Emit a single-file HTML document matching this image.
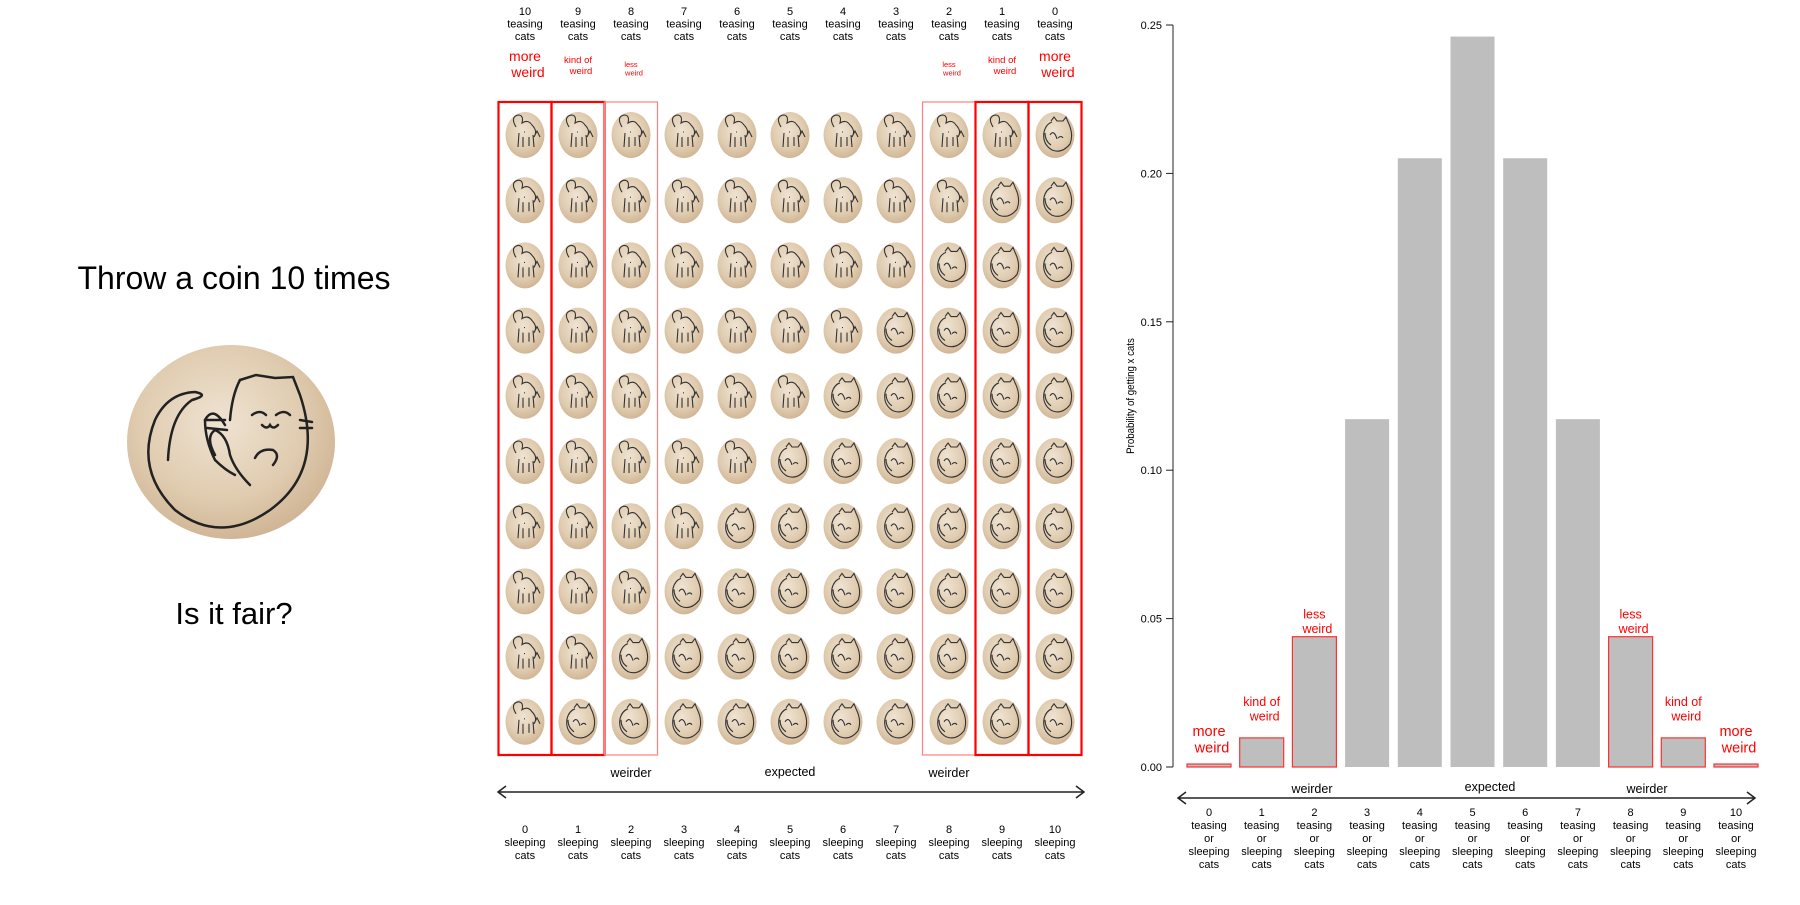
<!DOCTYPE html>
<html><head><meta charset="utf-8"><style>
html,body{margin:0;padding:0;background:#fff;}
svg text{font-family:"Liberation Sans",sans-serif;}
</style></head><body>
<svg id="root" width="1800" height="900" viewBox="0 0 1800 900" xmlns="http://www.w3.org/2000/svg">
<defs>
<radialGradient id="wood" cx="45%" cy="40%" r="65%">
<stop offset="0" stop-color="#efe3d2"/><stop offset="0.6" stop-color="#e0ccb0"/><stop offset="1" stop-color="#cdb190"/>
</radialGradient>
</defs>
<g>
<text x="234" y="289" font-size="32" text-anchor="middle">Throw a coin 10 times</text>
<g>
<ellipse cx="231" cy="442" rx="104" ry="97" fill="url(#wood)"/>
<g fill="none" stroke="#222" stroke-width="2.5" stroke-linecap="round">
<path d="M240 380 L256 375 L275 378 L293 377 L300 395 Q325 470 270 510 Q220 545 175 510 Q135 470 155 420 Q168 393 195 392 Q210 395 192 400 Q170 415 168 460"/>
<path d="M240 380 Q232 395 230 420"/>
<path d="M225 425 q-12 -20 -20 -5 q0 20 10 40 q10 10 20 15"/>
<path d="M215 455 q-10 -18 0 -25 q12 5 15 25 q5 15 20 30"/>
<path d="M255 458 q5 -10 18 -8 q8 5 0 15"/>
<path d="M252 415 q8 -6 14 0 M276 415 q8 -6 14 0 M262 425 q5 5 8 0 q3 5 8 0"/>
<path d="M205 420 l20 0 M207 428 l20 2 M300 420 l12 2 M300 428 l12 0"/>
</g>
</g>
<text x="234" y="624" font-size="31" text-anchor="middle">Is it fair?</text>
</g>
<g id="grid"></g>
<g id="chart"></g>
</svg>
<script>
const NS='http://www.w3.org/2000/svg';
function mk(tag,attrs,parent,txt){const e=document.createElementNS(NS,tag);for(const k in attrs)e.setAttribute(k,attrs[k]);if(txt!==undefined)e.textContent=txt;parent.appendChild(e);return e;}

// ---------- data ----------
const categories=[0,1,2,3,4,5,6,7,8,9,10];
const probabilities=[0.001,0.0098,0.0439,0.1172,0.2051,0.2461,0.2051,0.1172,0.0439,0.0098,0.001];
const yTickValues=[0,0.05,0.10,0.15,0.20,0.25];
const yTickLabels=["0.00","0.05","0.10","0.15","0.20","0.25"];
const weirdLabels=["more|weird","kind of|weird","less|weird","","","","","","less|weird","kind of|weird","more|weird"];
const gridRows=10;

// ---------- coin grid ----------
const grid=document.getElementById('grid');
const gx=c=>525+c*53, gy=r=>135+r*65.2;
function coin(cx,cy,sleeping,parent){
  const g=mk('g',{},parent);
  
  
  mk('ellipse',{cx:cx,cy:cy,rx:19.5,ry:23,fill:'url(#wood)'},g);
  const p=sleeping
   ?`M${cx-4} ${cy-14} l3 -4 l3 4 l6 0 l3 -4 l2 5 q6 12 2 22 q-8 10 -18 6 q-10 -6 -8 -18 q2 -8 8 -10 M${cx-10} ${cy-2} q0 8 6 12 M${cx-5} ${cy} q4 -6 7 4 M${cx+3} ${cy+3} q3 -3 5 0`
   :`M${cx-9} ${cy-8} q-6 -10 2 -12 q6 0 4 8 q6 -4 10 2 q6 6 2 12 l3 -6 l3 6 M${cx-6} ${cy-2} l-1 14 M${cx-2} ${cy+2} l0 10 M${cx+4} ${cy+2} l0 9 M${cx+8} ${cy} l1 12 M${cx-1} ${cy-3} l1 0`;
  mk('path',{d:p,fill:'none',stroke:'#333','stroke-width':1.1},g);
}
for(const c of categories){
  for(let r=0;r<gridRows;r++){ coin(gx(c),gy(r), r>=gridRows-c, grid); }
  const teasing=10-c;
  const tl=mk('text',{x:gx(c),y:15,'font-size':11,'text-anchor':'middle'},grid);
  
  
  [String(teasing),'teasing','cats'].forEach((s,i)=>mk('tspan',{x:gx(c),dy:i?12.5:0},tl,s));
  const bl=mk('text',{x:gx(c),y:833,'font-size':11,'text-anchor':'middle'},grid);
  
  
  [String(c),'sleeping','cats'].forEach((s,i)=>mk('tspan',{x:gx(c),dy:i?13:0},bl,s));
  const w=weirdLabels[c];
  if(w){
    const d=Math.min(c,10-c);
    const fs=[14,9.5,7.5][d], y0=[61,63,67][d];
    const wl=mk('text',{x:gx(c),y:y0,'font-size':fs,'text-anchor':'middle',fill:'#ff0000'},grid);
    
    
    w.split('|').forEach((s,i)=>mk('tspan',{x:gx(c)+(i?3:0),dy:i?fs*1.15:0},wl,s));
    const bx=mk('rect',{x:gx(c)-26.5,y:102,width:53,height:653,fill:'none',stroke:d===2?'#ff8080':'#ff0000','stroke-width':d===2?1.2:2.2},grid);
    
    
  }
}
mk('path',{d:'M498 792 L1084 792 M506 786 L498 792 L506 798 M1076 786 L1084 792 L1076 798',stroke:'#222','stroke-width':1.5,fill:'none'},grid);
[['weirder',631,777],['expected',790,776],['weirder',949,777]].forEach(t=>{
  const e=mk('text',{x:t[1],y:t[2],'font-size':12.5,'text-anchor':'middle'},grid,t[0]);
  
  
});

// ---------- bar chart ----------
const chart=document.getElementById('chart');
const y0px=767, yPerUnit=(767-25)/0.25;
const yScale=v=>y0px-v*yPerUnit;
const xScale=c=>1187+c*52.7;
const barW=44;
const axis=mk('g',{},chart);


mk('line',{x1:1173,x2:1173,y1:yScale(0),y2:yScale(0.25),stroke:'#222','stroke-width':1},axis);
yTickValues.forEach((v,i)=>{
  mk('line',{x1:1166,x2:1173,y1:yScale(v),y2:yScale(v),stroke:'#222'},axis);
  const t=mk('text',{x:1162,y:yScale(v)+4,'font-size':11,'text-anchor':'end'},axis,yTickLabels[i]);
  
  
});
const yt=mk('text',{x:0,y:0,'font-size':11,'text-anchor':'middle',transform:'translate(1134,396) rotate(-90) scale(0.88,1)'},chart,'Probability of getting x cats');


categories.forEach((c,i)=>{
  const v=probabilities[i];
  const d=Math.min(c,10-c);
  const b=mk('rect',{x:xScale(c),y:yScale(v),width:barW,height:Math.max(yScale(0)-yScale(v),0.5),fill:'#bebebe',stroke:d<3?'#ff3030':'none','stroke-width':1.2},chart);
  
  
  const w=weirdLabels[i];
  if(w){
    const fs=d===0?14.5:12.5;
    const lab=mk('text',{x:xScale(c)+barW/2,y:yScale(v)-(d===0?28:d===1?32:18),'font-size':fs,'text-anchor':'middle',fill:'#ff0000'},chart);
    
    
    w.split('|').forEach((s,k)=>mk('tspan',{x:xScale(c)+barW/2+(k?3:0),dy:k?fs*1.15:0},lab,s));
  }
  const xl=mk('text',{x:xScale(c)+barW/2,y:816,'font-size':11,'text-anchor':'middle'},chart);
  
  
  [String(c),'teasing','or','sleeping','cats'].forEach((s,k)=>mk('tspan',{x:xScale(c)+barW/2,dy:k?13:0},xl,s));
});
mk('path',{d:'M1178 798 L1755 798 M1186 792 L1178 798 L1186 804 M1747 792 L1755 798 L1747 804',stroke:'#222','stroke-width':1.5,fill:'none'},chart);
[['weirder',1312,793],['expected',1490,791],['weirder',1647,793]].forEach(t=>{
  const e=mk('text',{x:t[1],y:t[2],'font-size':12.5,'text-anchor':'middle'},chart,t[0]);
  
  
});
</script>
</body></html>
